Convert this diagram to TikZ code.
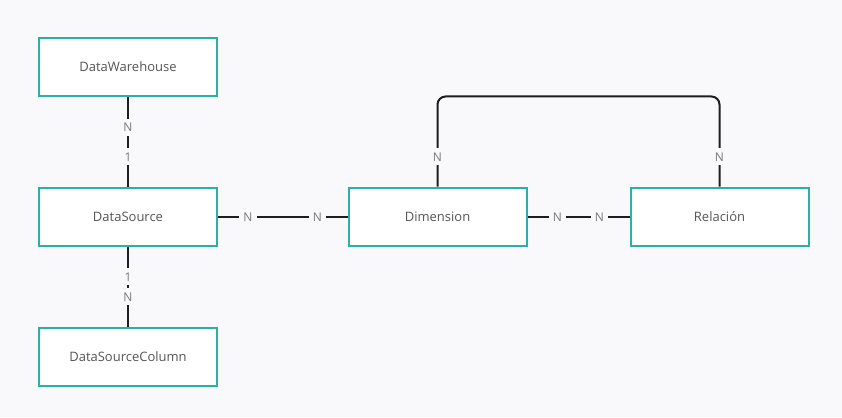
\documentclass[tikz,border=0pt]{standalone}
\usepackage{fontspec}
\setmainfont{Open Sans}
\definecolor{pagegray}{RGB}{249,249,251}
\definecolor{tealline}{RGB}{43,176,168}
\definecolor{boxtext}{RGB}{85,85,85}
\definecolor{cardtext}{RGB}{120,120,120}
\definecolor{linkline}{RGB}{30,30,30}

\begin{document}
\begin{tikzpicture}[
  x=1pt, y=-1pt,
  entitybox/.style={rectangle, draw=tealline, fill=white, text=boxtext,
                    minimum width=178pt, minimum height=58pt, line width=2pt,
                    inner sep=0pt, font=\fontsize{13}{15}\selectfont},
  cardlabel/.style={fill=pagegray, text=cardtext, inner sep=4pt,
                    text height=9pt, text depth=0pt,
                    font=\fontsize{12}{14}\selectfont},
  link/.style={draw=linkline, line width=2pt}
]
  \fill[pagegray] (0,0) rectangle (842,417);

  \node[entitybox] (dw)  at (128, 67)    {DataWarehouse};
  \node[entitybox] (ds)  at (128, 216.5) {DataSource};
  \node[entitybox] (dsc) at (128, 356.5) {DataSourceColumn};
  \node[entitybox] (dim) at (437.5, 216.5) {Dimension};
  \node[entitybox] (rel) at (719.5, 216.5) {Relación};

  \draw[link] (dw) -- (ds);
  \draw[link] (ds) -- (dsc);
  \draw[link] (ds) -- (dim);
  \draw[link] (dim) -- (rel);
  \draw[link, rounded corners=8pt] (dim.north) -- ++(0,-90) -| (rel.north);

  \node[cardlabel] at ([yshift=-30pt]dw.south)  {N};
  \node[cardlabel] at ([yshift=30pt]ds.north)   {1};
  \node[cardlabel] at ([yshift=-30pt]ds.south)  {1};
  \node[cardlabel] at ([yshift=30pt]dsc.north)  {N};
  \node[cardlabel] at ([xshift=30pt]ds.east)    {N};
  \node[cardlabel] at ([xshift=-30pt]dim.west)  {N};
  \node[cardlabel] at ([xshift=30pt]dim.east)   {N};
  \node[cardlabel] at ([xshift=-30pt]rel.west)  {N};
  \node[cardlabel] at ([yshift=30pt]dim.north)  {N};
  \node[cardlabel] at ([yshift=30pt]rel.north)  {N};
\end{tikzpicture}
\end{document}
